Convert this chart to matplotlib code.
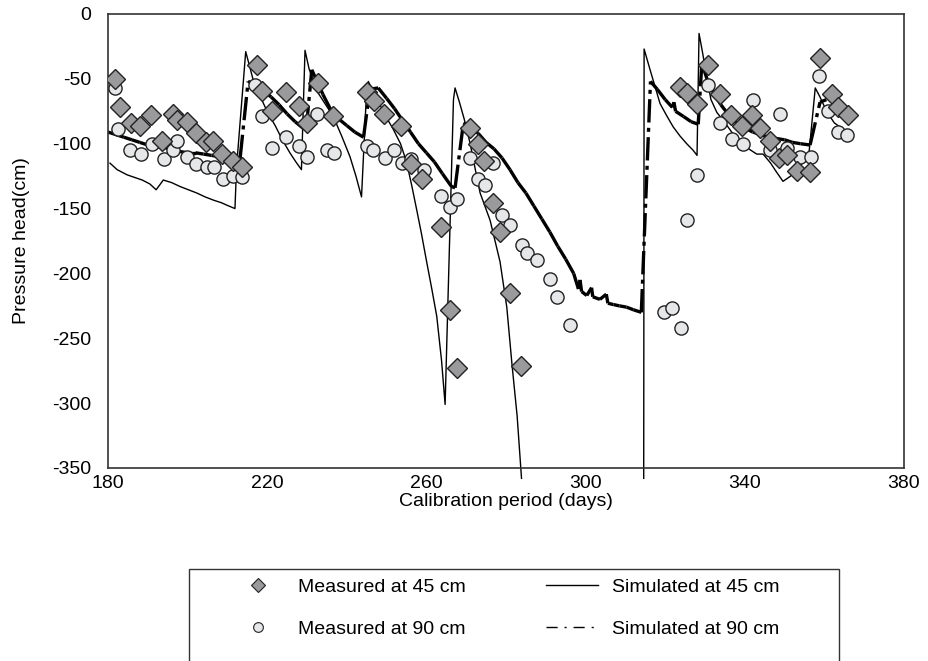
import matplotlib
matplotlib.use("Agg")
import numpy as np
import matplotlib.pyplot as plt
from matplotlib.lines import Line2D
from matplotlib.patches import Rectangle

plt.rcParams['font.family'] = ['Liberation Sans', 'DejaVu Sans']
plt.rcParams['axes.unicode_minus'] = False

# ---------------- Data ----------------

meas45_day = [181.8, 182.9, 185.7, 188.0, 190.7, 193.6, 196.4, 197.3, 199.8, 202.0,
              204.5, 206.5, 208.7, 211.5, 213.7,
              217.5, 218.8, 221.1, 224.6, 228.0, 229.9, 232.8, 236.6,
              245.2, 246.9, 249.4, 253.5, 256.2, 258.8, 263.6, 265.9, 267.6,
              271.0, 272.9, 274.5, 276.8, 278.5, 281.0, 283.7,
              323.6, 325.6, 328.1, 330.8, 333.8, 336.6, 339.2, 341.7, 343.8, 346.3,
              348.6, 350.5, 353.1, 356.4, 358.8, 361.8, 363.4, 366.0]
meas45_head = [-50, -72, -84, -86, -78, -98, -77, -82, -83, -92,
               -99, -98, -108, -113, -118,
               -39, -59, -75, -60, -71, -84, -53, -79,
               -60, -67, -77, -86, -116, -127, -164, -228, -273,
               -88, -100, -113, -146, -168, -215, -271,
               -56, -61, -69, -39, -62, -78, -86, -78, -88, -98,
               -111, -109, -121, -122, -34, -62, -72, -78]

meas90_day = [181.8, 182.6, 185.5, 188.2, 191.1, 194.1, 196.4, 197.3, 199.9, 202.0,
              204.8, 206.6, 209.0, 211.4, 213.6,
              216.9, 218.6, 221.1, 224.7, 228.1, 229.9, 232.5, 235.0, 236.8,
              245.0, 246.7, 249.6, 251.9, 253.8, 256.2, 259.4, 263.6, 265.9, 267.6,
              271.0, 273.0, 274.7, 276.8, 278.9, 281.0, 283.9, 285.4, 287.9, 291.0,
              292.7, 296.1,
              319.7, 321.7, 324.0, 325.6, 327.9,
              330.8, 333.8, 336.7, 339.6, 342.0, 346.3, 348.8, 350.5, 353.9, 356.6,
              358.7, 361.0, 363.3, 365.6]
meas90_head = [-57, -89, -105, -108, -100, -112, -105, -98, -110, -116,
               -118, -118, -127, -125, -126,
               -55, -79, -103, -95, -102, -110, -77, -105, -107,
               -102, -105, -111, -105, -115, -112, -120, -140, -149, -143,
               -111, -127, -132, -115, -155, -163, -178, -184, -190, -204,
               -218, -240,
               -230, -227, -242, -159, -124,
               -55, -84, -96, -100, -66, -105, -77, -103, -110, -110,
               -48, -75, -91, -93]

sim45_day = [180.5, 182.3, 184.8, 188.6, 190.5, 192.1, 193.9, 196.0, 198.1, 200.2,
             202.3, 204.4, 206.5, 208.5, 209.8, 211.9, 212.3, 214.6,
             216.5, 218.6, 220.3, 222.0, 223.8, 225.7, 227.2, 228.6, 229.5,
             230.5, 232.4, 234.5, 236.6, 238.7, 240.8, 242.3, 243.7, 244.8, 245.4,
             248.0, 250.0, 251.7, 253.5, 255.0, 256.3, 257.5, 258.8, 260.0,
             261.3, 262.6, 263.8, 264.7, 266.8, 267.2,
             268.3, 269.5, 271.0, 272.3, 273.5, 276.0, 278.5, 280.2, 281.5,
             282.8, 283.9, np.nan, 314.6, 314.7,
             316.2, 318.7, 320.3, 322.0, 323.7, 325.4, 327.0, 328.0, 328.5,
             329.4, 330.5, 331.5, 333.0, 334.6, 336.7, 338.8, 341.0, 343.0,
             344.6, 346.5, 348.0, 349.6, 351.5, 353.5, 355.5, 356.2, 357.7,
             358.9, 360.4, 361.4, 362.5, 363.9]
sim45_head = [-115, -120, -124, -128, -131, -135.5, -128, -130, -133, -135.5,
              -138, -141, -143.5, -145.5, -147.3, -150, -118, -29,
              -51, -66, -77, -86, -97, -107, -114, -120, -28,
              -42, -59, -69, -79, -94, -110, -125, -141, -70, -52,
              -68, -80, -89, -100, -114, -132, -150, -170, -190,
              -211, -233, -267, -301, -66, -57,
              -68, -81, -100, -120, -138, -159, -191, -226, -270,
              -310, -358, np.nan, -358, -27,
              -43, -69, -78, -87, -94, -100, -105, -109, -15,
              -30, -50, -66, -76, -82, -91, -100, -104, -108,
              -108, -115, -122, -129, -125, -118, -112, -105, -57,
              -64, -74, -79, -84, -87]

sim90_day = [180.0, 182.0, 184.0, 186.0, 188.0, 190.0, 192.0, 194.0, 196.0, 198.0,
             200.0, 202.0, 204.0, 206.0, 208.0, 210.0, 212.0, 213.2,
             215.2, 217.0, 219.0, 221.0, 223.0, 225.0, 227.0, 229.0, 229.8,
             231.2, 232.4, 234.0, 236.0, 238.0, 240.0, 242.0, 244.2,
             245.8, 247.9, 250.0, 252.0, 254.0, 256.0, 258.0, 260.0, 262.0,
             264.0, 266.3, 267.2,
             269.3, 271.0, 273.0, 275.0, 277.0, 279.0, 281.0, 283.0, 285.0,
             287.0, 289.0, 291.0, 293.0, 295.0, 297.0, 298.2, 298.6, 299.0,
             300.3, 301.5, 301.8, 303.6, 305.2, 305.6, 307.0, 308.5, 310.3,
             312.0, 314.0,
             316.3, 318.0, 320.0, 321.8, 322.2, 322.6, 324.6, 326.5, 328.3,
             329.2, 330.5, 332.0, 334.0, 336.0, 338.0, 340.0, 342.0, 344.0,
             346.0, 348.0, 350.0, 352.0, 354.0, 356.4, 358.9, 360.5]
sim90_head = [-91, -93, -95, -97, -99, -101, -102, -103, -104, -106,
              -107, -107, -108, -109, -110, -110, -111, -111,
              -52, -54, -59, -64, -70, -77, -83, -88, -89,
              -43, -51, -62, -74, -81, -86, -91, -95,
              -58, -57, -65, -73, -82, -91, -100, -107, -114,
              -123, -133, -134,
              -84, -87, -92, -99, -104, -111, -120, -130, -138,
              -148, -158, -168, -179, -189, -200, -212, -205, -214,
              -217, -211, -218, -220, -216, -223, -224, -225, -226,
              -228, -230,
              -52, -58, -66, -72, -68, -75, -79, -83, -85,
              -38, -50, -60, -70, -78, -84, -88, -91, -93,
              -95, -96, -97, -99, -100, -101, -68, -66]

x_ticks = [180, 220, 260, 300, 340, 380]
y_ticks = [0, -50, -100, -150, -200, -250, -300, -350]

# ---------------- Figure ----------------

fig = plt.figure(figsize=(9.29, 6.61), dpi=100)
ax = fig.add_axes([108 / 929, 1 - 468 / 661, 796 / 929, 454 / 661])

dashdot = (0, (7, 1.6, 1.2, 1.6))

# simulated lines
ax.plot(sim45_day, sim45_head, color="black", lw=1.0, clip_on=False, zorder=2)

# one segment at a time so the dash pattern restarts on every step
for i in range(len(sim90_day) - 1):
    ax.plot(sim90_day[i:i + 2], sim90_head[i:i + 2], color="black", lw=2.4,
            ls=dashdot, dash_capstyle="butt", zorder=2)

# measured points
ax.plot(meas90_day, meas90_head, "o", ms=9.5, mfc="#e6e7e8", mec="#222222",
        mew=1.0, zorder=3)
ax.plot(meas45_day, meas45_head, "D", ms=10.5, mfc="#9a9a9c", mec="#222222",
        mew=1.0, zorder=4)

ax.set_xlim(180, 380)
ax.set_ylim(-350, 0)
ax.set_xticks(x_ticks)
ax.set_yticks(y_ticks)
ax.tick_params(length=0, labelsize=14)
ax.tick_params(axis="y", pad=12)
ax.tick_params(axis="x", pad=5)

for sp in ax.spines.values():
    sp.set_color("#333333")
    sp.set_linewidth(1.2)

ax.set_xlabel("Calibration period (days)", fontsize=14, labelpad=1)
ax.set_ylabel("Pressure head(cm)", fontsize=14, labelpad=16)

# ---------------- Legend ----------------

fig.add_artist(Rectangle((189 / 929, -0.05), (839 - 189) / 929, 1 - 569 / 661 + 0.05,
                         transform=fig.transFigure, fill=False,
                         ec="#333333", lw=1.0))

handles = [
    Line2D([], [], ls="none", marker="D", ms=7.5, mfc="#9a9a9c", mec="#222222", mew=0.8),
    Line2D([], [], ls="none", marker="o", ms=7, mfc="#e6e7e8", mec="#222222", mew=0.8),
    Line2D([], [], color="black", lw=1.0),
    Line2D([], [], color="black", lw=1.0, ls=(0, (8, 5, 1.5, 5))),
]
labels = ["Measured at 45 cm", "Measured at 90 cm",
          "Simulated at 45 cm", "Simulated at 90 cm"]

fig.legend(handles, labels, ncol=2, loc="upper left",
           bbox_to_anchor=(232 / 929, 1 - 578 / 661),
           frameon=False, fontsize=14, handlelength=2.7, handletextpad=0.72,
           columnspacing=4.1, labelspacing=1.25, borderpad=0, borderaxespad=0)

fig.savefig("out.png", dpi=100)
